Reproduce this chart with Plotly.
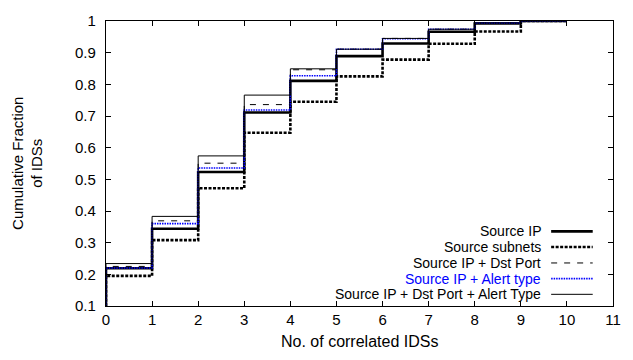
import plotly.graph_objects as go

# number of correlated IDSs (step boundaries)
x_vals = [0, 0, 1, 2, 3, 4, 5, 6, 7, 8, 9, 10]

# cumulative fraction of IDSs (first value = start of CDF)
src_ip = [0.0, 0.219, 0.344, 0.523, 0.711, 0.811, 0.889, 0.929, 0.966, 0.992, 1.0, 1.0]
src_subnets = [0.0, 0.195, 0.308, 0.472, 0.647, 0.745, 0.825, 0.878, 0.928, 0.967, 1.0, 1.0]
src_ip_dst = [0.0, 0.225, 0.369, 0.551, 0.736, 0.846, 0.911, 0.945, 0.974, 0.994, 1.0, 1.0]
src_ip_alert = [0.0, 0.220, 0.360, 0.536, 0.719, 0.827, 0.911, 0.944, 0.974, 0.994, 1.0, 1.0]
src_ip_dst_alert = [0.0, 0.234, 0.383, 0.574, 0.766, 0.849, 0.911, 0.945, 0.974, 0.994, 1.0, 1.0]

names = ["Source IP", "Source subnets", "Source IP + Dst Port",
         "Source IP + Alert type", "Source IP + Dst Port + Alert Type"]
series = [src_ip, src_subnets, src_ip_dst, src_ip_alert, src_ip_dst_alert]
styles = [
    dict(color="black", width=2.6, dash="solid"),
    dict(color="black", width=2.6, dash="3px,1.5px"),
    dict(color="black", width=1, dash="6px,7px"),
    dict(color="#0000ff", width=1.6, dash="1.5px,1px"),
    dict(color="black", width=1, dash="solid"),
]
text_colors = ["black", "black", "black", "#0000ff", "black"]

FONT = "Liberation Sans, Arial, Helvetica, sans-serif"

fig = go.Figure()
for nm, ys, st in zip(names, series, styles):
    fig.add_trace(go.Scatter(x=x_vals, y=ys, mode="lines", name=nm,
                             line=dict(shape="hv", **st), showlegend=False,
                             hoverinfo="skip"))

# gnuplot-style legend (text right-aligned, sample on the right)
row_y = [0.262, 0.207, 0.151, 0.096, 0.041]
for nm, st, tc, ry in zip(names, styles, text_colors, row_y):
    fig.add_annotation(xref="paper", yref="paper", x=0.859, y=ry,
                       text=nm, showarrow=False, xanchor="right", yanchor="middle",
                       borderpad=0,
                       font=dict(family=FONT, size=14, color=tc))
    fig.add_shape(type="line", xref="paper", yref="paper",
                  x0=0.878, x1=0.960, y0=ry, y1=ry, line=st)

fig.add_annotation(xref="paper", yref="paper", x=-0.155, y=0.5,
                   text="Cumulative Fraction<br>of IDSs", showarrow=False,
                   textangle=-90, xanchor="center", yanchor="middle",
                   font=dict(family=FONT, size=15, color="black"))
fig.add_annotation(xref="paper", yref="paper", x=0.5, y=-0.123,
                   text="No. of correlated IDSs", showarrow=False,
                   xanchor="center", yanchor="middle",
                   font=dict(family=FONT, size=16, color="black"))

axis_common = dict(showgrid=False, zeroline=False, showline=True, linecolor="black",
                   linewidth=1.3, mirror="ticks", ticks="inside", ticklen=5,
                   tickcolor="black", tickwidth=1,
                   tickfont=dict(family=FONT, size=15, color="black"))
fig.update_xaxes(range=[0, 11], tickmode="linear", tick0=0, dtick=1, **axis_common)
fig.update_yaxes(range=[0.1, 1], tickmode="linear", tick0=0.1, dtick=0.1,
                 ticklabelstandoff=6, **axis_common)

fig.update_layout(width=633, height=360, margin=dict(l=106, r=16, t=12, b=54),
                  plot_bgcolor="white", paper_bgcolor="white",
                  font=dict(family=FONT, size=15, color="black"))

fig.write_html("out.html", config={"displayModeBar": False},
               post_script="document.body.style.margin='0';document.body.style.padding='0';")
